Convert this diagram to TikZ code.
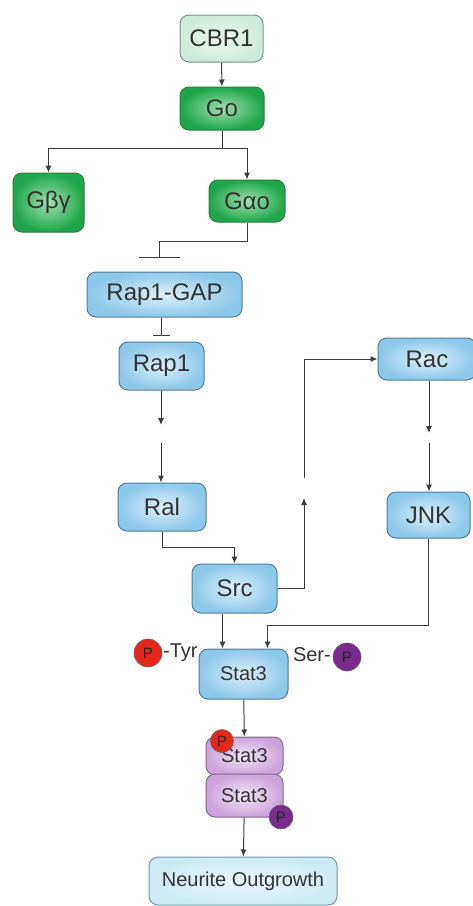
\documentclass[tikz,border=0pt]{standalone}
\usepackage{fontspec}
\setmainfont{Liberation Sans}
\usetikzlibrary{arrows.meta}

\definecolor{lineg}{HTML}{3C3C3C}
\definecolor{txtg}{HTML}{333333}
\definecolor{blueout}{HTML}{8CC8EA}
\definecolor{bluein}{HTML}{DDF0FA}
\definecolor{blueline}{HTML}{4F7C99}
\definecolor{greenout}{HTML}{1FA64A}
\definecolor{greenin}{HTML}{9FDFAF}
\definecolor{greenline}{HTML}{2C7C42}
\definecolor{paleout}{HTML}{CDEBDA}
\definecolor{palein}{HTML}{EEF8F2}
\definecolor{paleline}{HTML}{73988A}
\definecolor{pinkout}{HTML}{CCA3DA}
\definecolor{pinkin}{HTML}{F3E6F6}
\definecolor{pinkline}{HTML}{7D6A88}
\definecolor{cyanout}{HTML}{CDEBF5}
\definecolor{cyanin}{HTML}{EAF7FB}
\definecolor{cyanline}{HTML}{6F9AA8}
\definecolor{pred}{HTML}{E5261B}
\definecolor{ppurple}{HTML}{7A2A8C}

\begin{document}
\begin{tikzpicture}[x=1pt,y=-1pt,
box/.style={draw,rounded corners=9pt,line width=1pt,text=txtg,inner sep=0pt,font=\fontsize{24}{28}\selectfont},
bluebox/.style={box,draw=blueline,inner color=bluein,outer color=blueout},
greenbox/.style={box,draw=greenline,inner color=greenin,outer color=greenout},
palebox/.style={box,draw=paleline,inner color=palein,outer color=paleout},
pinkbox/.style={box,draw=pinkline,inner color=pinkin,outer color=pinkout,font=\fontsize{20}{24}\selectfont},
phos/.style={circle,draw=black!60,line width=0.6pt,inner sep=0pt,minimum size=#1,text=black!85,font=\fontsize{15}{17}\selectfont},
site/.style={text=txtg,inner sep=0pt,font=\fontsize{20}{24}\selectfont},
arr/.style={-{Latex[length=7pt,width=6pt]},line width=1pt,draw=lineg},
inh/.style={-{Bar[width=#1]},line width=1pt,draw=lineg}]

\useasboundingbox (0,0) rectangle (472,906);

\node (cbr1) at (221.5,38.5) [palebox,minimum width=83pt,minimum height=47pt] {CBR1};
\node (go) at (222,108.5) [greenbox,minimum width=84pt,minimum height=43pt] {Go};
\node (gbg) at (48.5,202.5) [greenbox,minimum width=71pt,minimum height=59pt] {Gβγ};
\node (gao) at (247,201) [greenbox,minimum width=76pt,minimum height=42pt] {Gαo};

\node (rapgap) at (164.5,294.5) [bluebox,minimum width=155pt,minimum height=45pt] {Rap1-GAP};
\node (rap1) at (161.5,366) [bluebox,minimum width=85pt,minimum height=48pt] {Rap1};
\node (ral) at (162,507) [bluebox,minimum width=88pt,minimum height=48pt] {Ral};
\node (src) at (234.5,588.5) [bluebox,minimum width=85pt,minimum height=49pt] {Src};
\node (rac) at (427,359) [bluebox,minimum width=98pt,minimum height=42pt] {Rac};
\node (jnk) at (428.5,515) [bluebox,minimum width=83pt,minimum height=46pt] {JNK};
\node (stat) at (243.5,674) [bluebox,minimum width=89pt,minimum height=50pt,font=\fontsize{20}{24}\selectfont] {Stat3};

\node (dima) at (244.5,756) [pinkbox,minimum width=77pt,minimum height=38pt] {Stat3};
\node (dimb) at (244.5,795.5) [pinkbox,minimum width=77pt,minimum height=43pt] {Stat3};
\node (out) at (243,881) [box,draw=cyanline,inner color=cyanin,outer color=cyanout,minimum width=188pt,minimum height=48pt,font=\fontsize{20}{24}\selectfont] {Neurite Outgrowth};

% phosphorylation sites
\node (ptyr) at (148,653) [phos=28pt,fill=pred] {P};
\node (tyr) at (163,653) [site,anchor=west] {-Tyr};
\node (ser) at (331,655) [site,anchor=east] {Ser-};
\node (pser) at (347,657) [phos=28pt,fill=ppurple] {P};
\node (pa) at (222,741) [phos=23pt,fill=pred] {P};
\node (pb) at (281,817) [phos=24pt,fill=ppurple] {P};

% gaps in the broken arrows
\coordinate (rapa) at (161,425);
\coordinate (rapb) at (161,443);
\coordinate (srca) at (304,498);
\coordinate (srcb) at (304,478);
\coordinate (raca) at (429,433);
\coordinate (racb) at (429,443);
\coordinate (gapbar) at (159,258);
\coordinate (rapbar) at (161,336);

\draw [arr] (cbr1) -- (go);
\draw [arr] (go.south) -- ++(0,18) -| (gbg.north);
\draw [arr] (go.south) -- ++(0,18) -| (gao.north);
\draw [inh=41pt] (gao.south) -- ++(0,19) -| (gapbar);
\draw [inh=17pt] (rapbar |- rapgap.south) -- (rapbar);

\draw [arr] (rapa |- rap1.south) -- (rapa);
\draw [arr] (rapb) -- (rapb |- ral.north);
\draw [arr] (ral.south) -- ++(0,16) -| (src.north);
\draw [arr] (src.east) -| (srca);
\draw [arr] (srcb) |- (rac.west);
\draw [arr] (raca |- rac.south) -- (raca);
\draw [arr] (racb) -- (racb |- jnk.north);
\draw [arr] (jnk.south) -- ++(0,87) -| ([xshift=24pt]stat.north);
\draw [arr] ([xshift=-12pt]src.south) -- ([xshift=-21pt]stat.north);
\draw [arr] (stat) -- (dima);
\draw [arr] (dimb) -- (out);

\end{tikzpicture}
\end{document}
